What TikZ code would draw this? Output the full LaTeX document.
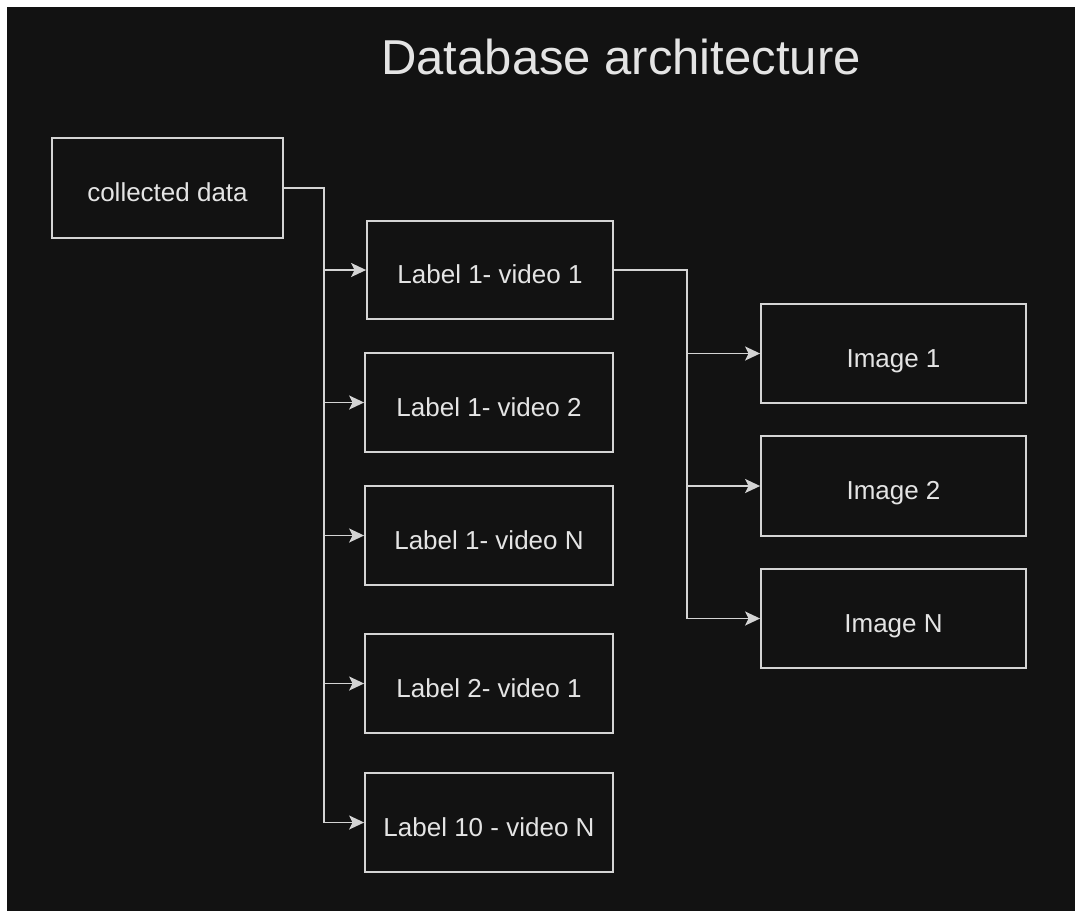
\documentclass[tikz,border=0pt]{standalone}
\usepackage{fontspec}
\setmainfont{Liberation Sans}
\usetikzlibrary{arrows.meta}
\definecolor{bg}{HTML}{121212}
\definecolor{ln}{HTML}{D4D4D4}
\definecolor{tx}{HTML}{E4E4E4}
\begin{document}
\begin{tikzpicture}[x=1pt,y=-1pt,
  box/.style={draw=ln, line width=1.8pt, inner sep=0pt, text=tx,
    text height=30pt, text depth=3pt,
    font=\fontsize{26}{30}\selectfont},
  link/.style={draw=ln, line width=1.8pt},
  arr/.style={link, -{Stealth[length=15pt,width=14pt,inset=3.5pt]}}]
\useasboundingbox (0,0) rectangle (1075,911);
\fill[white] (0,0) rectangle (1075,911);
\fill[bg] (7,7) rectangle (1075,911);

\node[text=tx, font=\fontsize{49}{56}\selectfont] (title) at (621,57) {Database architecture};

\node[box, minimum width=231pt, minimum height=100pt] (cd) at (167.5,188) {collected data};

\node[box, minimum width=246pt, minimum height=98pt] (l11) at (490,270) {Label 1- video 1};
\node[box, minimum width=248pt, minimum height=99pt] (l12) at (489,402.5) {Label 1- video 2};
\node[box, minimum width=248pt, minimum height=99pt] (l1n) at (489,535.5) {Label 1- video N};
\node[box, minimum width=248pt, minimum height=99pt] (l21) at (489,683.5) {Label 2- video 1};
\node[box, minimum width=248pt, minimum height=99pt] (l10n) at (489,822.5) {Label 10 - video N};

\node[box, minimum width=265pt, minimum height=99pt] (i1) at (893.5,353.5) {Image 1};
\node[box, minimum width=265pt, minimum height=100pt] (i2) at (893.5,486) {Image 2};
\node[box, minimum width=265pt, minimum height=99pt] (in) at (893.5,618.5) {Image N};

\coordinate (busA) at (324,188);
\coordinate (busB) at (687,270);

\draw[arr] (cd.east) -- (busA) |- (l11.west);
\draw[arr] (cd.east) -- (busA) |- (l12.west);
\draw[arr] (cd.east) -- (busA) |- (l1n.west);
\draw[arr] (cd.east) -- (busA) |- (l21.west);
\draw[arr] (cd.east) -- (busA) |- (l10n.west);

\draw[arr] (l11.east) -- (busB) |- (i1.west);
\draw[arr] (l11.east) -- (busB) |- (i2.west);
\draw[arr] (l11.east) -- (busB) |- (in.west);
\end{tikzpicture}
\end{document}
